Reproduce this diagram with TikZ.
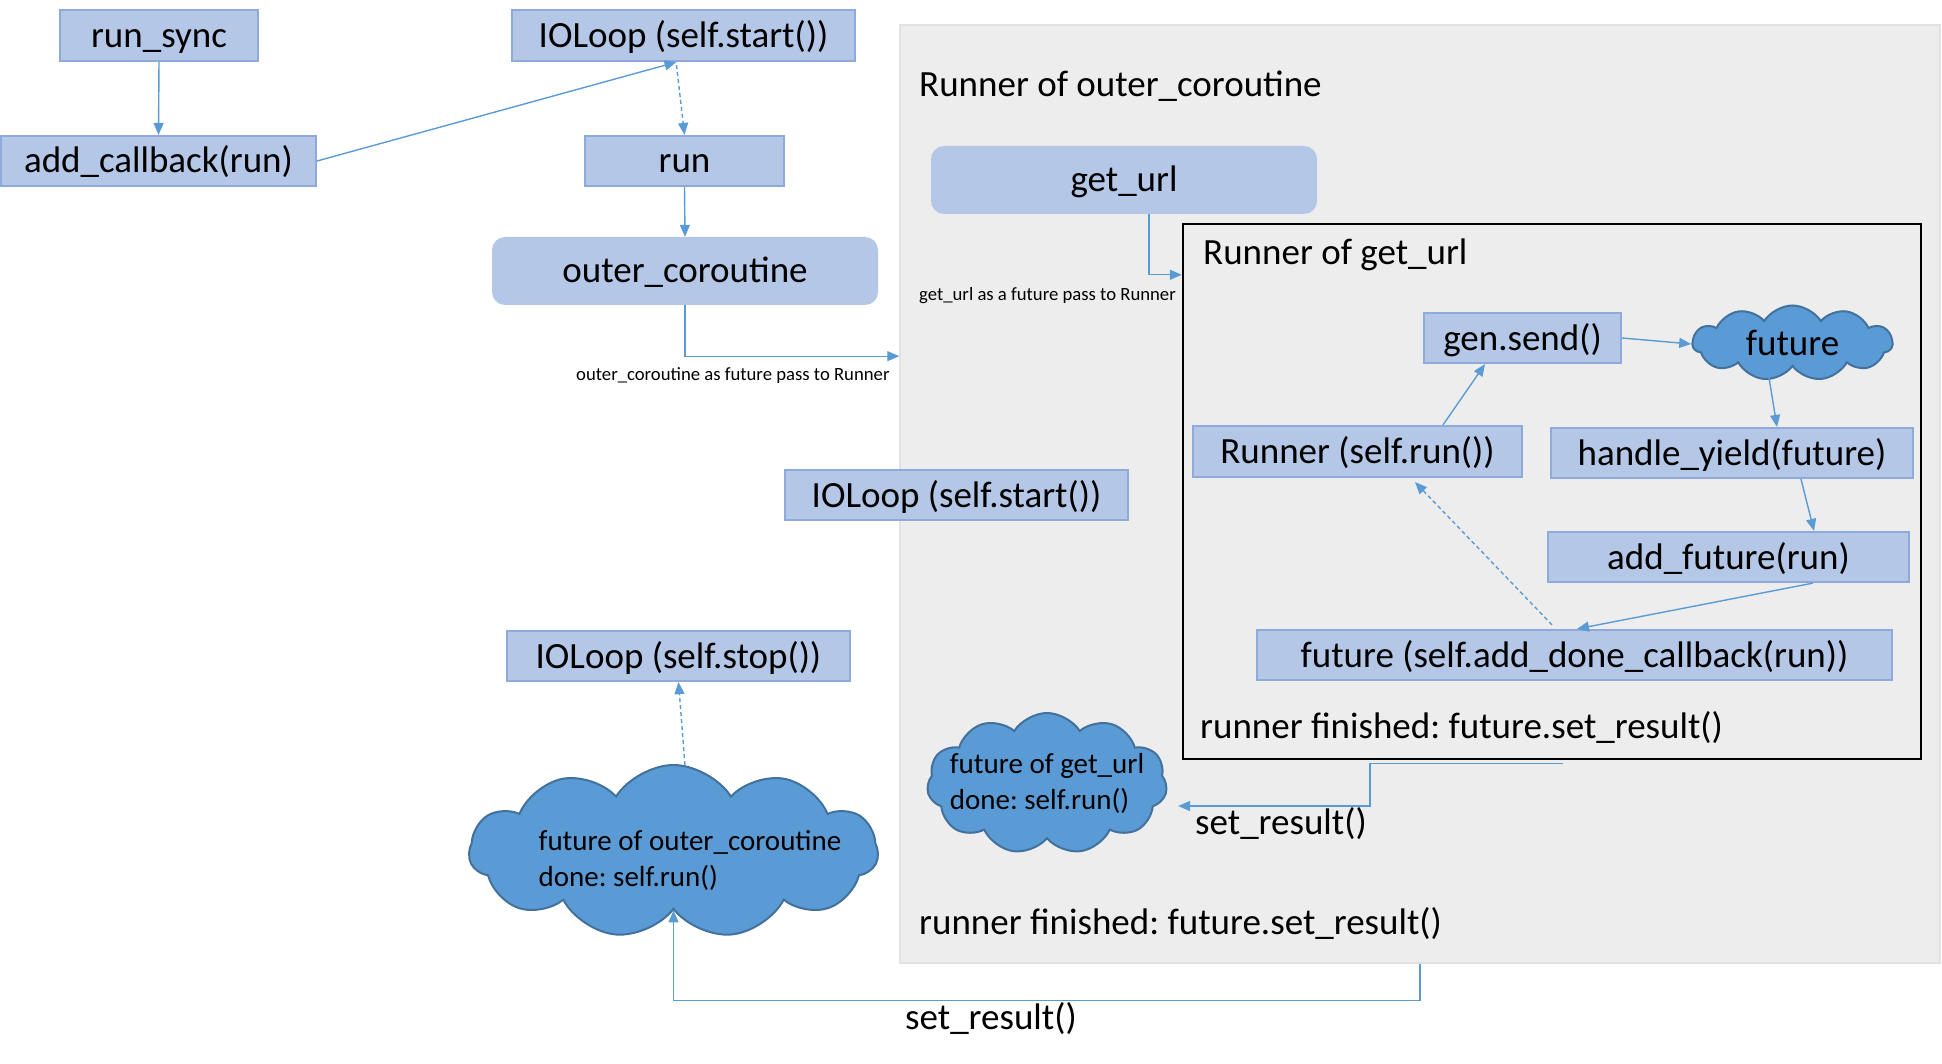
\documentclass[tikz,border=0pt]{standalone}
\usepackage{fontspec}
\setmainfont{Carlito}
\frenchspacing
\usetikzlibrary{shapes.symbols,arrows.meta}
\definecolor{boxfill}{HTML}{B4C7E7}
\definecolor{boxline}{HTML}{8EAADB}
\definecolor{cloudfill}{HTML}{5B9BD5}
\definecolor{cloudline}{HTML}{41719C}
\definecolor{connc}{HTML}{5B9BD5}
\definecolor{grayfill}{HTML}{EDEDED}
\definecolor{grayline}{HTML}{E2E2E2}
\newcommand\fmain{\fontsize{37}{44}\selectfont}
\newcommand\fcloud{\fontsize{29}{36}\selectfont}
\newcommand\fsmall{\fontsize{18.7}{22}\selectfont}
\tikzset{
  sqbox/.style={draw=boxline, fill=boxfill, line width=2.2pt, inner sep=0pt, font=\fmain, text height=28pt, text depth=4pt},
  rbox/.style={fill=boxfill, rounded corners=13pt, inner sep=0pt, font=\fmain, text height=28pt, text depth=4pt},
  cloudnode/.style={cloud, cloud puffs=11, cloud puff arc=115, cloud ignores aspect, draw=cloudline, fill=cloudfill, line width=2pt, inner sep=0pt},
  plain/.style={inner sep=0pt, font=\fmain},
  conn/.style={draw=connc, line width=1.4pt, -{Triangle[length=12pt,width=10pt]}},
  dconn/.style={conn, dash pattern=on 4pt off 3pt},
  line/.style={draw=connc, line width=1.4pt}
}
\begin{document}
\begin{tikzpicture}[x=1pt,y=-1pt]
\useasboundingbox (0,0) rectangle (1942,1064);
% gray region
\node[draw=grayline, fill=grayfill, line width=1.5pt, minimum width=1040pt, minimum height=938pt, inner sep=0pt] (outerrunner) at (1420,494) {};
\node[plain, anchor=base west] (title1) at (919,97) {Runner of outer\_coroutine};
% inner black box
\node[draw=black, line width=2.4pt, minimum width=738pt, minimum height=535pt, inner sep=0pt] (runnerbox) at (1552,491.5) {};
\node[plain, anchor=base west] (title2) at (1203,265) {Runner of get\_url};

% left column
\node[sqbox, minimum width=198pt, minimum height=51pt] (runsync) at (159,35.5) {run\_sync};
\node[sqbox, minimum width=343pt, minimum height=51pt] (ioloop1) at (683.5,35.5) {IOLoop (self.start())};
\node[sqbox, minimum width=315pt, minimum height=50pt] (addcb) at (158.5,161) {add\_callback(run)};
\node[sqbox, minimum width=199pt, minimum height=50pt] (run) at (684.5,161) {run};
\node[rbox, minimum width=386pt, minimum height=68pt] (outer) at (685,271) {outer\_coroutine};
\node[inner sep=0pt, font=\fsmall, anchor=west] (lab1) at (576,376) {outer\_coroutine as future pass to Runner};

\node[sqbox, minimum width=343pt, minimum height=50pt] (ioloopmid) at (956.5,495) {IOLoop (self.start())};
\node[sqbox, minimum width=343pt, minimum height=50pt] (ioloopstop) at (678.5,656) {IOLoop (self.stop())};
\node[cloudnode, minimum width=409pt, minimum height=173pt] (outercloud) at (673.5,851.5) {};
\node[inner sep=0pt, font=\fcloud, align=left] (outercloudtxt) at (690,860) {future of outer\_coroutine\\done: self.run()};

% inside outer runner
\node[rbox, minimum width=386pt, minimum height=68pt] (geturl) at (1124,180) {get\_url};
\node[inner sep=0pt, font=\fsmall, anchor=west] (lab2) at (919,296) {get\_url as a future pass to Runner};
\node[cloudnode, minimum width=240pt, minimum height=141pt] (smallcloud) at (1047,783.5) {};
\node[inner sep=0pt, font=\fcloud, align=left] (smallcloudtxt) at (1047,783.5) {future of get\_url\\done: self.run()};
\node[plain, anchor=west] (setres1) at (1195,824) {set\_result()};
\node[plain, anchor=west] (fin1) at (919,924) {runner finished: future.set\_result()};

% inside get_url runner
\node[sqbox, minimum width=197pt, minimum height=50pt] (gensend) at (1522.5,338) {gen.send()};
\node[cloudnode, minimum width=200pt, minimum height=75pt, font=\fmain] (future) at (1792.5,343) {future};
\node[sqbox, minimum width=329pt, minimum height=51pt] (runnerrun) at (1357.5,451.5) {Runner (self.run())};
\node[sqbox, minimum width=362pt, minimum height=50pt] (handle) at (1732,453) {handle\_yield(future)};
\node[sqbox, minimum width=361pt, minimum height=50pt] (addfuture) at (1728.5,557) {add\_future(run)};
\node[sqbox, minimum width=635pt, minimum height=50pt] (futdone) at (1574.5,655) {future (self.add\_done\_callback(run))};
\node[plain, anchor=base west] (fin2) at (1200,738) {runner finished: future.set\_result()};

\node[plain, anchor=west] (setres2) at (905,1019) {set\_result()};

% connectors
\draw[conn] (runsync.south) -- (addcb.north);
\draw[conn] (addcb.east) -- ([xshift=-7pt]ioloop1.south);
\draw[dconn] ([xshift=-7pt,yshift=-3pt]ioloop1.south) -- (run.north);
\draw[conn] (run.south) -- (outer.north);
\draw[conn] (outer.south) -- ++(0,51) coordinate (bend1) -- (bend1 -| outerrunner.west);
\draw[conn] ([xshift=25pt]geturl.south) |- ([yshift=-52pt]runnerbox.north west);
\draw[conn] (gensend.east) -- ([yshift=-1pt]future.west);
\draw[conn] ([xshift=85.5pt]runnerrun.north) -- ([xshift=-37.5pt]gensend.south);
\draw[conn] ([xshift=-25.5pt,yshift=2pt]future.south) -- ([xshift=45pt]handle.north);
\draw[conn] ([xshift=69pt]handle.south) -- ([xshift=85.5pt]addfuture.north);
\draw[conn] ([xshift=84.5pt]addfuture.south) -- ([xshift=2.5pt]futdone.north);
\draw[dconn] ([xshift=-22.5pt,yshift=4pt]futdone.north) -- ([xshift=57.5pt,yshift=-4pt]runnerrun.south);
\draw[conn] ([xshift=11pt,yshift=-3pt]runnerbox.south) -- ([xshift=-182pt,yshift=-3pt]runnerbox.south) |- ([xshift=11pt,yshift=-22.5pt]smallcloud.east);
\draw[conn] (outerrunner.south) -- ++(0,37) -| (outercloud.south);
\draw[dconn] ([xshift=12pt,yshift=-8pt]outercloud.north) -- (ioloopstop.south);
\end{tikzpicture}
\end{document}
